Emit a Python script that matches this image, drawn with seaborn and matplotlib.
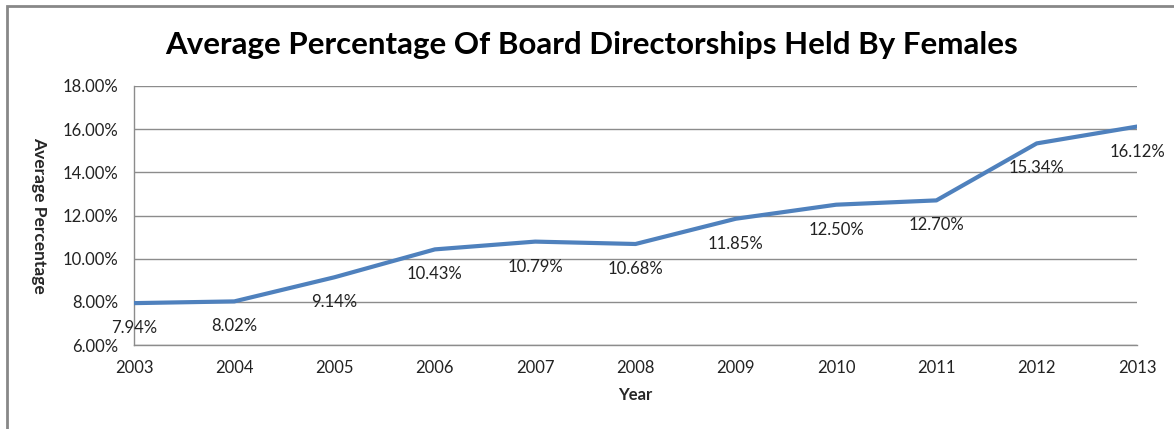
import matplotlib
matplotlib.use("Agg")
import matplotlib.pyplot as plt
import seaborn as sns
import pandas as pd
from matplotlib.patches import Rectangle
from matplotlib.ticker import FuncFormatter

years = [2003, 2004, 2005, 2006, 2007, 2008, 2009, 2010, 2011, 2012, 2013]
values = [7.94, 8.02, 9.14, 10.43, 10.79, 10.68, 11.85, 12.50, 12.70, 15.34, 16.12]
y_ticks = [6, 8, 10, 12, 14, 16, 18]

df = pd.DataFrame({"Year": years, "Value": values})

sns.set_style("white")
plt.rcParams["font.family"] = ["Lato", "DejaVu Sans"]

fig = plt.figure(figsize=(11.74, 4.29), dpi=100)
ax = fig.add_axes([134/1174, 1-345/429, (1137-134)/1174, (345-86)/429])

grid_c = "#8c8c8c"
sns.lineplot(data=df, x="Year", y="Value", ax=ax, color="#4F81BD", linewidth=3, zorder=3)

ax.set_xlim(years[0], years[-1])
ax.set_ylim(6, 18)
ax.set_xticks(years)
ax.set_yticks(y_ticks)
ax.yaxis.set_major_formatter(FuncFormatter(lambda v, p: f"{v:.2f}%"))
ax.grid(axis="y", color=grid_c, linewidth=1)
ax.set_axisbelow(True)
for s in ["top", "right"]:
    ax.spines[s].set_visible(False)
for s in ["left", "bottom"]:
    ax.spines[s].set_color(grid_c)
    ax.spines[s].set_linewidth(1)
ax.tick_params(axis="both", direction="out", length=5, width=1, color=grid_c,
               labelsize=12, labelcolor="#222222")
ax.tick_params(axis="y", pad=6)
ax.tick_params(axis="x", pad=6)

for x, v in zip(years, values):
    ax.annotate(f"{v:.2f}%", (x, v), xytext=(0, -18), textcoords="offset points",
                ha="center", va="center", fontsize=12, color="#222222")

ax.set_xlabel("Year", fontsize=12, fontweight="bold", labelpad=8)
ax.set_ylabel("Average Percentage", fontsize=12.5, fontweight="bold", rotation=270,
              labelpad=12)
ax.yaxis.set_label_coords(-103/1003, 0.5)

fig.text(592/1174, 1-45/429, "Average Percentage Of Board Directorships Held By Females",
         ha="center", va="center", fontsize=22.5, fontweight="bold", color="black")

fig.add_artist(Rectangle((7/1174, -0.2), 1.2, 1.2 - 6/429, transform=fig.transFigure,
                         fill=False, edgecolor="#888888", linewidth=2, clip_on=False))

fig.savefig("out.png", dpi=100)
